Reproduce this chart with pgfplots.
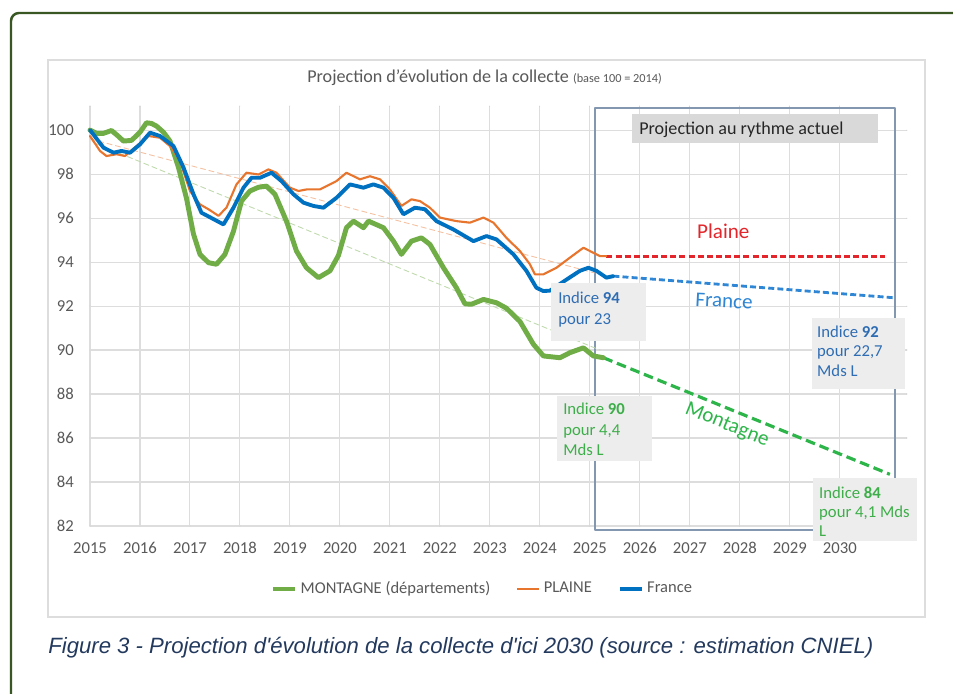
\documentclass[border=0pt]{standalone}
\usepackage{fontspec}
\setmainfont{Carlito}
\newfontfamily\arialfont{Liberation Sans}
\usepackage{pgfplots}
\pgfplotsset{compat=1.18}

\definecolor{montagne}{HTML}{70AD47}
\definecolor{plaine}{HTML}{E8752E}
\definecolor{france}{HTML}{0070C0}
\definecolor{gridgray}{HTML}{DDDDDD}
\definecolor{txtgray}{HTML}{595959}
\definecolor{framegreen}{HTML}{385723}
\definecolor{boxgray}{HTML}{EDEDED}
\definecolor{labelgray}{HTML}{D9D9D9}
\definecolor{projred}{HTML}{E3262B}
\definecolor{projblue}{HTML}{2F86D4}
\definecolor{projgreen}{HTML}{2DB54A}
\definecolor{txtblue}{HTML}{2E6DB4}
\definecolor{txtgreen}{HTML}{3DAE49}
\definecolor{captionblue}{HTML}{233A5E}
\definecolor{boxline}{HTML}{8497B0}

\pgfplotstableread{
x y
2015.00 100.00
2015.13 99.85
2015.27 99.85
2015.43 99.98
2015.55 99.75
2015.67 99.50
2015.83 99.53
2016.00 99.90
2016.13 100.33
2016.23 100.30
2016.33 100.18
2016.47 99.90
2016.60 99.50
2016.77 98.30
2016.93 96.90
2017.07 95.27
2017.20 94.35
2017.37 93.97
2017.53 93.90
2017.70 94.35
2017.87 95.40
2018.03 96.77
2018.20 97.23
2018.37 97.40
2018.53 97.45
2018.70 97.08
2018.93 95.86
2019.13 94.50
2019.33 93.74
2019.57 93.29
2019.80 93.60
2019.97 94.30
2020.13 95.56
2020.27 95.86
2020.47 95.56
2020.57 95.86
2020.87 95.56
2021.07 94.95
2021.23 94.35
2021.43 94.95
2021.63 95.10
2021.80 94.80
2022.07 93.74
2022.33 92.83
2022.50 92.10
2022.63 92.08
2022.87 92.30
2023.13 92.15
2023.33 91.90
2023.60 91.30
2023.87 90.26
2024.07 89.73
2024.40 89.65
2024.60 89.88
2024.87 90.10
2025.07 89.73
2025.27 89.65
}\montagne

\pgfplotstableread{
x y
2015.00 99.73
2015.20 99.05
2015.33 98.82
2015.53 98.90
2015.70 98.82
2015.93 99.27
2016.17 99.73
2016.40 99.65
2016.60 99.27
2016.80 98.60
2017.00 97.23
2017.20 96.62
2017.37 96.40
2017.57 96.10
2017.73 96.47
2017.93 97.53
2018.13 98.06
2018.37 97.98
2018.57 98.21
2018.73 98.06
2019.00 97.38
2019.17 97.23
2019.33 97.30
2019.60 97.30
2019.93 97.68
2020.13 98.06
2020.40 97.76
2020.60 97.90
2020.80 97.76
2021.00 97.30
2021.23 96.55
2021.43 96.85
2021.60 96.77
2021.80 96.47
2022.00 96.02
2022.33 95.86
2022.60 95.79
2022.87 96.02
2023.07 95.79
2023.33 95.10
2023.60 94.50
2023.80 93.90
2023.90 93.44
2024.07 93.44
2024.33 93.74
2024.60 94.20
2024.87 94.65
2025.07 94.42
2025.20 94.27
2025.33 94.27
}\plaine

\pgfplotstableread{
x y
2015.00 100.00
2015.27 99.20
2015.47 98.97
2015.63 99.05
2015.80 98.97
2016.00 99.35
2016.20 99.88
2016.40 99.73
2016.67 99.27
2016.87 98.30
2017.07 97.08
2017.23 96.24
2017.43 96.00
2017.67 95.71
2017.87 96.47
2018.07 97.38
2018.23 97.83
2018.40 97.83
2018.63 98.06
2018.83 97.68
2019.07 97.08
2019.27 96.70
2019.47 96.55
2019.67 96.47
2019.93 96.92
2020.20 97.53
2020.47 97.38
2020.67 97.53
2020.87 97.38
2021.07 96.92
2021.27 96.17
2021.50 96.47
2021.70 96.40
2021.93 95.86
2022.27 95.48
2022.67 94.95
2022.93 95.18
2023.13 95.03
2023.47 94.35
2023.73 93.60
2023.93 92.83
2024.07 92.68
2024.20 92.70
2024.53 93.20
2024.80 93.60
2024.97 93.74
2025.13 93.60
2025.33 93.29
2025.47 93.36
}\france

\begin{document}
\begin{tikzpicture}[x=0.02cm,y=0.02cm]
\clip (0,0) rectangle (953,693);
\fill[white] (0,0) rectangle (953,693);
% outer frame
\draw[framegreen,line width=1.4pt,rounded corners=0.16cm] (11,-30) -- (11,680) -- (990,680);
% chart area
\draw[gridgray,line width=0.6pt] (48,633) rectangle (925,76);
% title
\node[anchor=base west,inner sep=0,text=txtgray,font=\fontsize{10.3}{11}\selectfont] at (307,610)
  {Projection d'évolution de la collecte {\fontsize{7}{8}\selectfont (base 100 = 2014)}};
% caption
\node[anchor=base west,inner sep=0,text=captionblue,font=\arialfont\itshape\fontsize{12.6}{14}\selectfont] at (48,40)
  {Figure 3 - Projection d'évolution de la collecte d'ici 2030 (source : estimation CNIEL)};
\coordinate (axorig) at (90,167);

\begin{axis}[
  at={(axorig)}, anchor=south west,
  scale only axis, width=16.34cm, height=8.4cm,
  xmin=2015, xmax=2031.34, ymin=82, ymax=101.09,
  xtick={2015,...,2030}, ytick={82,84,...,100},
  /pgf/number format/1000 sep={},
  /pgf/number format/assume math mode=true,
  tick label style={font=\fontsize{9.5}{10}\selectfont, text=txtgray},
  yticklabel style={xshift=-0.2cm},
  xticklabel style={yshift=-0.2cm, text height=1.3ex, text depth=0pt},
  major tick length=0pt,
  grid=major, major grid style={gridgray, line width=0.6pt},
  axis line style={draw=none},
  clip=false,
  legend columns=3,
  legend style={draw=none, fill=none, at={(0.481,-0.150)}, anchor=center,
    font=\fontsize{9.4}{10}\selectfont, text=txtgray,
    /tikz/every even column/.append style={column sep=0.45cm},
    inner sep=0pt},
  legend image code/.code={\draw[#1] (0cm,0cm) -- (0.44cm,0cm);},
  line join=round, line cap=round,
]
% projection frame
\draw[boxline, line width=1.1pt] (axis cs:2025.1,81.82) rectangle (axis cs:2031.1,101.02);

% trend lines
\addplot[forget plot, plaine!45, line width=0.5pt, densely dashed] coordinates {(2015.0,99.6) (2025.1,93.5)};
\addplot[forget plot, montagne!45, line width=0.5pt, densely dashed] coordinates {(2015.1,99.4) (2025.2,90.0)};

% projections
\addplot[forget plot, projred, line width=1.8pt, dash pattern=on 3.4pt off 1.8pt, line cap=butt] coordinates {(2025.33,94.27) (2030.9,94.27)};
\addplot[forget plot, projblue, line width=1.6pt, dash pattern=on 3.4pt off 1.8pt, line cap=butt] coordinates {(2025.47,93.36) (2031.06,92.38)};
\addplot[forget plot, projgreen, line width=1.8pt, dash pattern=on 5.5pt off 2.8pt, line cap=butt] coordinates {(2025.27,89.65) (2031.0,84.35)};

% series
\addplot[montagne, line width=2.8pt] table[x=x,y=y] {\montagne};
\addlegendentry{MONTAGNE (départements)}
\addplot[plaine, line width=1.2pt] table[x=x,y=y] {\plaine};
\addlegendentry{PLAINE}
\addplot[france, line width=2.2pt] table[x=x,y=y] {\france};
\addlegendentry{France}

% label box "Projection au rythme actuel"
\fill[labelgray] (axis cs:2025.84,100.73) rectangle (axis cs:2030.76,99.41);
\node[anchor=base west, inner sep=0, text=black!85, font=\fontsize{10.3}{12}\selectfont] at (axis cs:2025.98,99.82) {Projection au rythme actuel};

% series names
\node[anchor=base west, inner sep=0, text=projred, font=\fontsize{12}{14}\selectfont] at (axis cs:2027.14,95.09) {Plaine};
\node[anchor=base west, inner sep=0, text=projblue, font=\fontsize{12}{14}\selectfont, rotate=-3] at (axis cs:2027.1,92.0) {France};
\node[anchor=center, inner sep=0, text=projgreen, font=\fontsize{12}{14}\selectfont, rotate=-22] at (axis cs:2027.74,86.59) {Montagne};

% annotation boxes
\fill[boxgray] (axis cs:2024.22,93.05) rectangle (axis cs:2026.12,90.41);
\node[anchor=north west, inner sep=0, align=left, text=txtblue, font=\fontsize{9.5}{11.8}\selectfont] at (axis cs:2024.36,92.65)
  {Indice \textbf{94}\\pour 23};
\fill[boxgray] (axis cs:2024.34,87.91) rectangle (axis cs:2026.24,84.95);
\node[anchor=north west, inner sep=0, align=left, text=txtgreen, font=\fontsize{9.5}{11.8}\selectfont] at (axis cs:2024.46,87.62)
  {Indice \textbf{90}\\pour 4,4\\Mds L};
\fill[boxgray] (axis cs:2029.44,91.45) rectangle (axis cs:2031.3,88.23);
\node[anchor=north west, inner sep=0, align=left, text=txtblue, font=\fontsize{9.5}{11.1}\selectfont] at (axis cs:2029.54,91.12)
  {Indice \textbf{92}\\pour 22,7\\Mds L};
\fill[boxgray] (axis cs:2029.46,84.18) rectangle (axis cs:2031.54,81.32);
\node[anchor=north west, inner sep=0, align=left, text=txtgreen, font=\fontsize{9.5}{10.8}\selectfont] at (axis cs:2029.58,83.80)
  {Indice \textbf{84}\\pour 4,1 Mds\\L};
\end{axis}
\end{tikzpicture}
\end{document}
